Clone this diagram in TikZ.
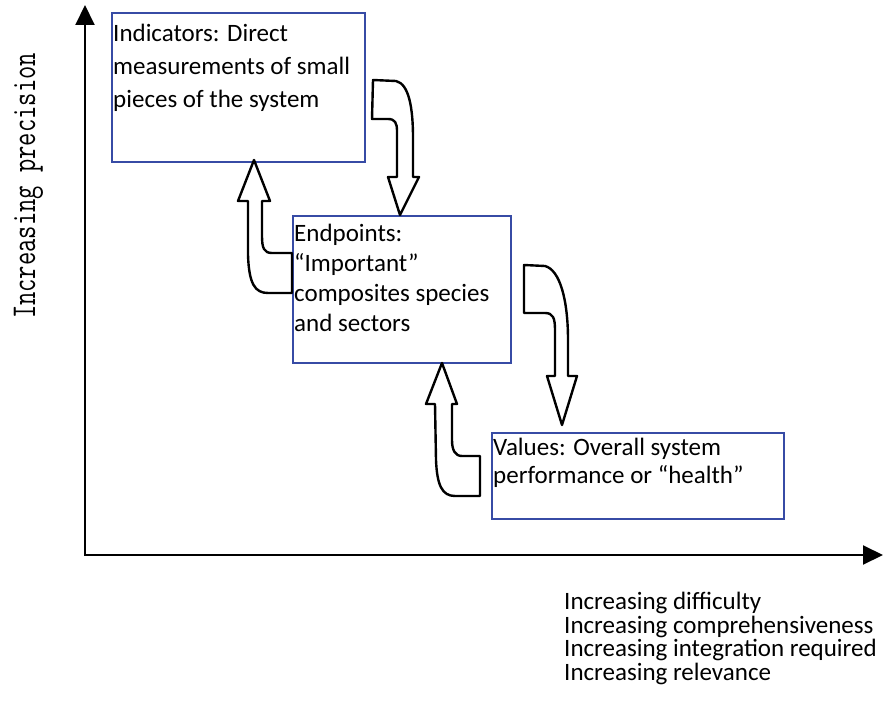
\documentclass[tikz,border=0pt]{standalone}
\usepackage{fontspec}
\setmainfont{Carlito}
\usetikzlibrary{arrows.meta}
\definecolor{boxblue}{RGB}{55,75,165}
\begin{document}
\begin{tikzpicture}[x=1pt,y=-1pt,
  boxframe/.style={draw=boxblue, line width=1.8pt, rectangle, inner sep=0pt, anchor=north west},
  boxtext/.style={anchor=base west, inner sep=0pt, align=left},
  blockarrow/.style={draw=black, fill=white, line width=2.4pt, line join=round},
  axisline/.style={line width=2pt, -{Triangle[length=20pt,width=19pt]}}]
\useasboundingbox (0,0) rectangle (883,703);

% axes
\coordinate (o) at (85,555);
\coordinate (ytop) at (85,5);
\coordinate (xend) at (883,555);
\draw[axisline] (o) -- (ytop);
\draw[axisline] ([xshift=-1pt]o) -- (xend);

\node[rotate=90, anchor=base, inner sep=0pt] (ylab) at (35,186)
  {\scalebox{1}[1.35]{\ttfamily\fontsize{25.8}{28}\selectfont Increasing precision}};

% boxes
\node[boxframe, minimum width=253pt, minimum height=149pt] (ind) at (111,12) {};
\node[boxframe, minimum width=218pt, minimum height=147pt] (end) at (292,215) {};
\node[boxframe, minimum width=292pt, minimum height=86pt] (val) at (491,432) {};

% (base anchor of a multi-line node = baseline of its last line)
\node[boxtext, font=\fontsize{25}{33}\selectfont] (indt) at ([shift={(2,96)}]ind.north west)
  {Indicators: Direct\\measurements of small\\pieces of the system};
\node[boxtext, font=\fontsize{25}{30}\selectfont] (endt) at ([shift={(2,116)}]end.north west)
  {Endpoints:\\“Important”\\composites species\\and sectors};
\node[boxtext, font=\fontsize{25}{28}\selectfont] (valt) at ([shift={(2,51)}]val.north west)
  {Values: Overall system\\performance or “health”};

\node[boxtext, font=\fontsize{25}{23.5}\selectfont] (xlab) at (564,680)
  {Increasing difficulty\\Increasing comprehensiveness\\Increasing integration required\\Increasing relevance};

% block arrows
% A: Indicators -> Endpoints (down)
\draw[blockarrow] (373,80) -- (396,81) .. controls (409,84) and (413,108) .. (413,138)
  -- (413,177) -- (419,177) -- (400,215) -- (388,177) -- (397,177) -- (397,131)
  .. controls (397,123) and (395,119) .. (388,119) -- (372,119) -- cycle;
% B: Endpoints -> Indicators (up)
\draw[blockarrow] (248,201) -- (248,255) .. controls (249,284) and (255,293) .. (268,293)
  -- (292,293) -- (292,253) -- (272,253) .. controls (264,253) and (262,248) .. (262,236)
  -- (262,201) -- (270,201) -- (254,160) -- (238,201) -- cycle;
% C: Endpoints -> Values (down)
\draw[blockarrow] (524,265) -- (545,266) .. controls (560,270) and (568,300) .. (568,340)
  -- (568,376) -- (577,376) -- (562,425) -- (547,376) -- (555,376) -- (555,330)
  .. controls (555,318) and (553,313) .. (545,313) -- (524,313) -- cycle;
% D: Values -> Endpoints (up)
\draw[blockarrow] (435,404) -- (436,460) .. controls (437,485) and (442,496) .. (455,496)
  -- (480,496) -- (480,456) -- (462,456) .. controls (455,456) and (452,450) .. (452,440)
  -- (452,404) -- (457,404) -- (442,363) -- (426,404) -- cycle;
\end{tikzpicture}
\end{document}
